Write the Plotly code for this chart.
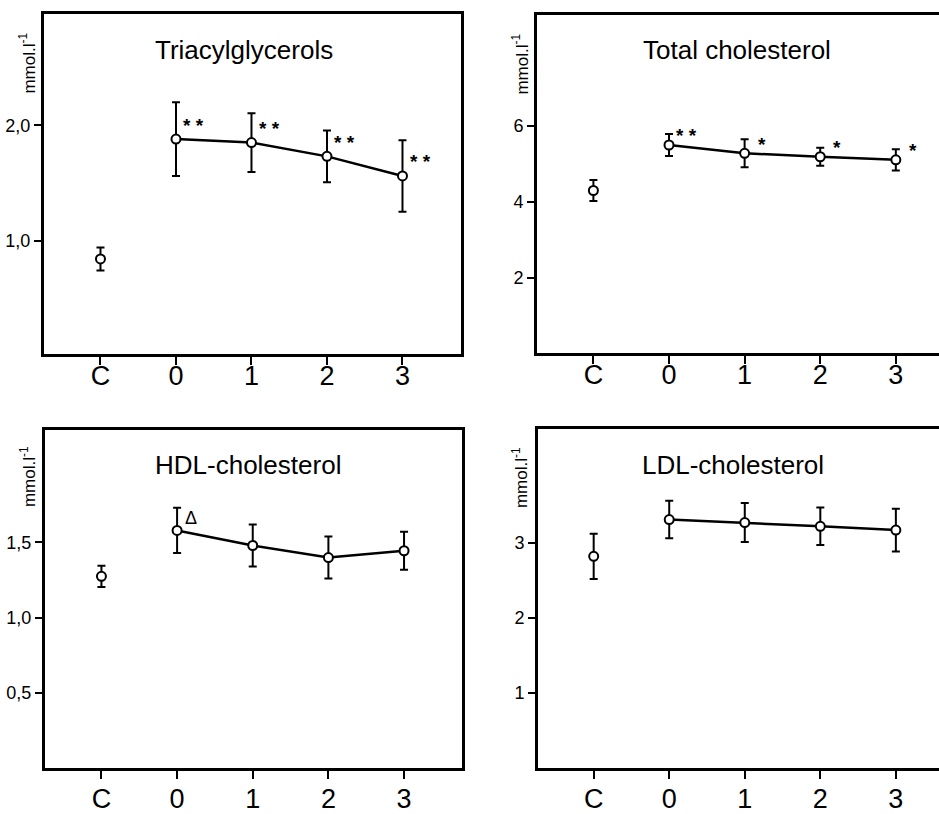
import plotly.graph_objects as go

# ---------------- data ----------------
categories = ["C", "0", "1", "2", "3"]

tg_mean = [0.84, 1.88, 1.85, 1.73, 1.56]
tg_sd = [0.10, 0.32, 0.255, 0.225, 0.31]
tg_sig = ["", "**", "**", "**", "**"]

tc_mean = [4.30, 5.50, 5.28, 5.19, 5.11]
tc_sd = [0.28, 0.29, 0.37, 0.24, 0.28]
tc_sig = ["", "**", "*", "*", "*"]

hdl_mean = [1.275, 1.58, 1.48, 1.40, 1.445]
hdl_sd = [0.07, 0.15, 0.14, 0.14, 0.126]
hdl_sig = ["", "Δ", "", "", ""]

ldl_mean = [2.82, 3.31, 3.27, 3.22, 3.17]
ldl_sd = [0.30, 0.25, 0.26, 0.25, 0.285]
ldl_sig = ["", "", "", "", ""]

titles = ["Triacylglycerols", "Total cholesterol", "HDL-cholesterol", "LDL-cholesterol"]

tg_ticks = [1.0, 2.0]
tg_ticktext = ["1,0", "2,0"]
tc_ticks = [2, 4, 6]
tc_ticktext = ["2", "4", "6"]
hdl_ticks = [0.5, 1.0, 1.5]
hdl_ticktext = ["0,5", "1,0", "1,5"]
ldl_ticks = [1, 2, 3]
ldl_ticktext = ["1", "2", "3"]

unit_label = "mmol.l<sup>-1</sup>"

# ---------------- layout geometry ----------------
W, H = 939, 814
FONT = "Liberation Sans, Arial, sans-serif"

panels = [
    dict(mean=tg_mean, sd=tg_sd, sig=tg_sig, ticks=tg_ticks, ticktext=tg_ticktext,
         xd=[44 / W, 461 / W], yd=[1 - 356 / H, 1 - 14 / H],
         xr=[-0.748, 4.775], yr=[0.017, 2.966], sigshift=(18, 14), standoff=-12,
         title_xy=(244, 50), unit_xy=(27, 64)),
    dict(mean=tc_mean, sd=tc_sd, sig=tc_sig, ticks=tc_ticks, ticktext=tc_ticktext,
         xd=[537 / W, 1.0], yd=[1 - 355 / H, 1 - 15 / H],
         xr=[-0.746, 4.571], yr=[0.02, 8.93], sigshift=(17, 9), standoff=-12,
         title_xy=(737, 50), unit_xy=(520, 65)),
    dict(mean=hdl_mean, sd=hdl_sd, sig=hdl_sig, ticks=hdl_ticks, ticktext=hdl_ticktext,
         xd=[45 / W, 462 / W], yd=[1 - 773 / H, 1 - 433 / H],
         xr=[-0.746, 4.766], yr=[0.0, 2.245], sigshift=(14, 12), standoff=-4,
         title_xy=(248, 468), unit_xy=(28, 480)),
    dict(mean=ldl_mean, sd=ldl_sd, sig=ldl_sig, ticks=ldl_ticks, ticktext=ldl_ticktext,
         xd=[538 / W, 1.0], yd=[1 - 773 / H, 1 - 432 / H],
         xr=[-0.737, 4.571], yr=[0.0, 4.51], sigshift=(15, 12), standoff=-4,
         title_xy=(733, 468), unit_xy=(520, 481)),
]

fig = go.Figure()
annotations = []

for i, p in enumerate(panels):
    n = "" if i == 0 else str(i + 1)
    xa, ya = "x" + n, "y" + n

    err_style = dict(type="data", symmetric=True, color="black", thickness=2, width=4)
    marker_style = dict(symbol="circle", size=9, color="white",
                        line=dict(color="black", width=2))

    # control point (not connected)
    fig.add_trace(go.Scatter(
        x=categories[:1], y=p["mean"][:1], mode="markers",
        error_y=dict(array=p["sd"][:1], **err_style),
        marker=marker_style, xaxis=xa, yaxis=ya, showlegend=False, cliponaxis=False))
    # time series 0..3
    fig.add_trace(go.Scatter(
        x=categories[1:], y=p["mean"][1:], mode="lines+markers",
        line=dict(color="black", width=2.5),
        error_y=dict(array=p["sd"][1:], **err_style),
        marker=marker_style, xaxis=xa, yaxis=ya, showlegend=False, cliponaxis=False))

    axis_common = dict(showgrid=False, zeroline=False, showline=True,
                       linecolor="black", linewidth=3, ticks="outside",
                       tickcolor="black", tickwidth=2)
    layout_x = dict(domain=p["xd"], anchor=ya, type="category",
                    categoryorder="array", categoryarray=categories,
                    range=p["xr"], ticklen=8, mirror=True,
                    ticklabelstandoff=p["standoff"],
                    tickfont=dict(family=FONT, color="black", size=27),
                    **axis_common)
    layout_y = dict(domain=p["yd"], anchor=xa, range=p["yr"],
                    tickvals=p["ticks"], ticktext=p["ticktext"], ticklen=7,
                    mirror=(i in (0, 2)),
                    tickfont=dict(family=FONT, color="black", size=18),
                    **axis_common)
    fig.update_layout(**{"xaxis" + n: layout_x, "yaxis" + n: layout_y})

    # significance marks (category index positions on a category axis)
    for k, (val, s) in enumerate(zip(p["mean"], p["sig"])):
        if s:
            txt = "<b>" + " ".join(s) + "</b>" if s != "Δ" else s
            annotations.append(dict(
                x=k, y=val, xref=xa, yref=ya, text=txt, showarrow=False,
                xshift=p["sigshift"][0], yshift=p["sigshift"][1],
                font=dict(family=FONT, size=19 if s != "Δ" else 18, color="black")))

    # panel title
    tx, ty = p["title_xy"]
    annotations.append(dict(
        x=tx / W, y=1 - ty / H, xref="paper", yref="paper", text=titles[i],
        showarrow=False, xanchor="center", yanchor="middle",
        font=dict(family=FONT, size=26, color="black")))
    # unit label
    ux, uy = p["unit_xy"]
    annotations.append(dict(
        x=ux / W, y=1 - uy / H, xref="paper", yref="paper", text=unit_label,
        showarrow=False, xanchor="center", yanchor="middle", textangle=-90,
        font=dict(family=FONT, size=17, color="black")))

fig.update_layout(
    width=W, height=H, margin=dict(l=0, r=0, t=0, b=0),
    paper_bgcolor="white", plot_bgcolor="white",
    annotations=annotations, showlegend=False,
)

fig.write_html("out.html", config={"displayModeBar": False},
               post_script="document.body.style.margin='0px';document.body.style.overflow='hidden';")
